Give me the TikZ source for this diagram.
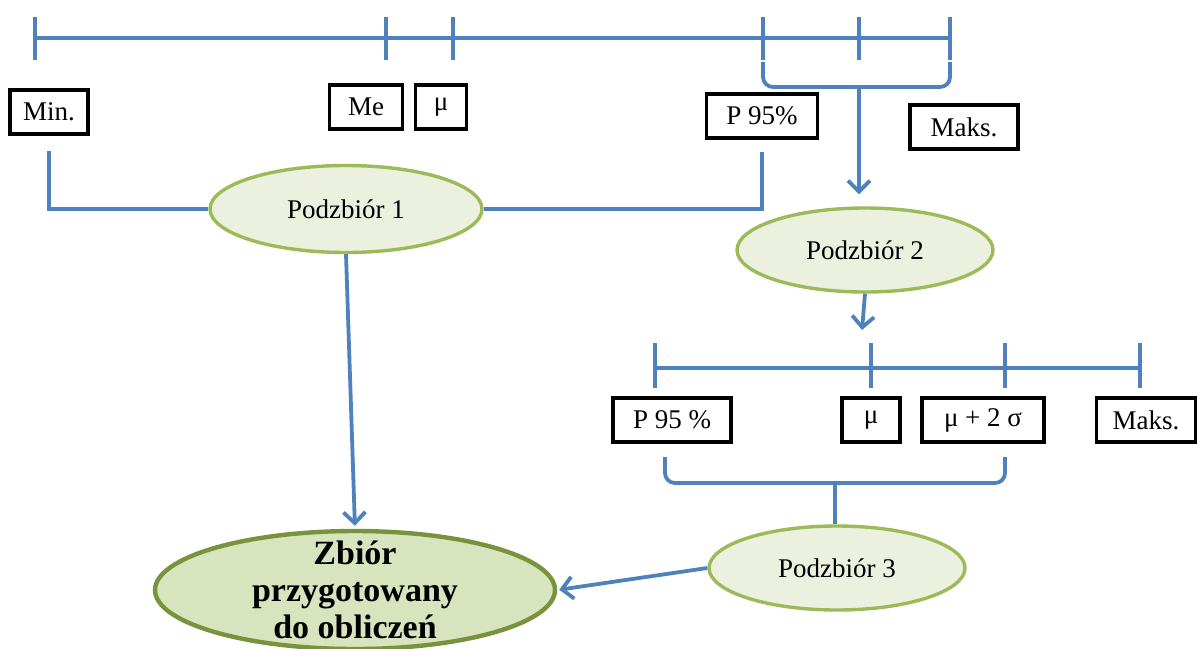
\documentclass[tikz,border=0pt]{standalone}
\usepackage{fontspec}
\setmainfont{Liberation Serif}
\usepackage{tikz}
\usetikzlibrary{arrows.meta,shapes.geometric,calc}
\definecolor{axisblue}{HTML}{4F81BD}
\definecolor{setfill}{HTML}{EBF1DE}
\definecolor{setline}{HTML}{9BBB59}
\definecolor{finalfill}{HTML}{D7E4BD}
\definecolor{finalline}{HTML}{77933C}

\begin{document}
\begin{tikzpicture}[x=0.5pt,y=-0.5pt,
axis/.style={draw=axisblue,line width=1.9pt},
conn/.style={draw=axisblue,line width=1.9pt,-{Straight Barb[length=5.5pt,width=11pt]}},
valbox/.style={rectangle,draw=black,line width=1.8pt,minimum height=22pt,
inner sep=0pt,font=\fontsize{13.5}{15}\selectfont},
subset/.style={ellipse,draw=setline,fill=setfill,line width=1.7pt,minimum
width=128pt,minimum height=42pt,inner sep=0pt,font=\fontsize{13.5}{15}\selectfont},
fullset/.style={ellipse,draw=finalline,fill=finalfill,line width=2.2pt,minimum
width=200pt,minimum height=59pt,inner sep=0pt}]

\useasboundingbox (0,0) rectangle (1202,648);

% first axis
\draw[axis] (35,38) -- (950,38);
\foreach \x in {35,386,453,763,859,950} \draw[axis] (\x,17) -- (\x,60);

\node (Min) [valbox,minimum width=39pt] at (49,112) {Min.};
\node (Me) [valbox,minimum width=36.5pt] at (366,107) {Me};
\node (Mu) [valbox,minimum width=25.5pt] at (441,107) {μ};
\node (Pct) [valbox,minimum width=55.5pt] at (762,116) {P 95\%};
\node (Max) [valbox,minimum width=54pt] at (964,127) {Maks.};

\node (Sub1) [subset,minimum width=136pt,minimum height=43.5pt] at (346,209)
{Podzbiór 1};
\node (Sub2) [subset] at (865,250) {Podzbiór 2};

\draw[axis] ([yshift=-7.5pt]Min.south) |- (Sub1.west);
\draw[axis] (Sub1.east) -| ([yshift=-6pt]Pct.south);

\draw[axis,rounded corners=5pt] (763,62) |- (859,87) -| (950,62);
\coordinate (Brace1) at (859,87);
\draw[conn,shorten >=6pt] (Brace1) -- (Brace1 |- Sub2.north);

% second axis
\coordinate (Axis2) at (862,330);
\draw[conn] (Sub2.south) -- (Axis2);
\draw[axis] (655,368) -- (1140,368);
\foreach \x in {655,871,1005,1140} \draw[axis] (\x,343) -- (\x,388);

\node (Pct2) [valbox,minimum width=59pt] at (672,420) {P 95 \%};
\node (Mu2) [valbox,minimum width=29pt] at (871,420) {μ};
\node (MuSig) [valbox,minimum width=61pt] at (983,420) {μ + 2 σ};
\node (Max2) [valbox,minimum width=49.5pt] at (1146,420) {Maks.};

\node (Sub3) [subset] at (837,568) {Podzbiór 3};

\draw[axis,rounded corners=5pt] (665,457) |- (835,483) -| (1005,457);
\coordinate (Brace2) at (835,483);
\draw[axis] (Brace2) -- (Brace2 |- Sub3.north);

% final set
\node (Final) [fullset] at (355,590) {};
\node (FinalText) [align=center,font=\fontsize{17}{18.5}\selectfont\bfseries]
at (Final.center) {Zbiór\\przygotowany\\do obliczeń};

\draw[conn,shorten >=1.5pt] (Sub1.south) -- (Final.north);
\draw[conn,shorten >=1pt] (Sub3.west) -- (Final.east);

\end{tikzpicture}
\end{document}
